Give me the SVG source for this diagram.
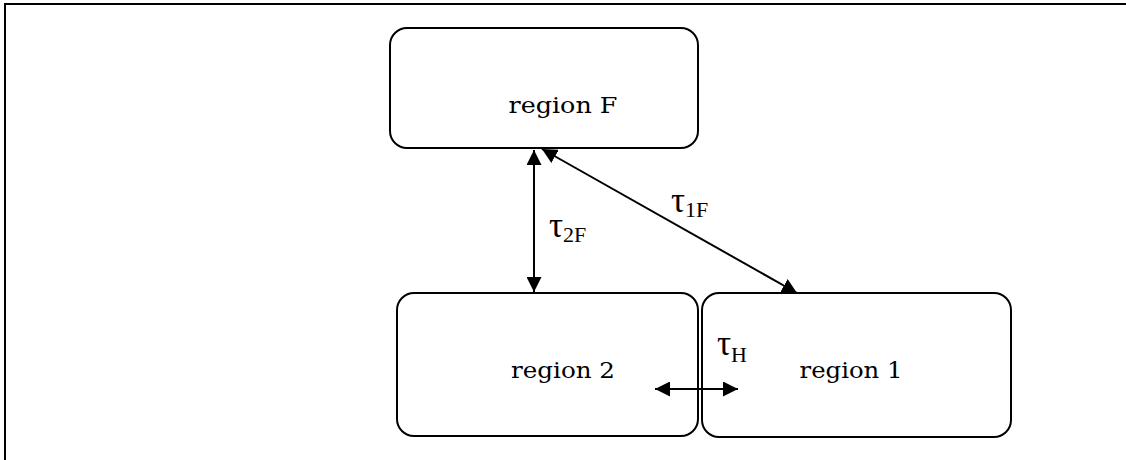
<svg xmlns="http://www.w3.org/2000/svg" width="1126" height="460" viewBox="0 0 1126 460">
<defs>
<style>
.box{fill:#fff;stroke:#000;stroke-width:2}
.lbl{font-family:"DejaVu Serif","Liberation Serif",serif;font-size:23px;fill:#000}
.tau{font-family:"Liberation Serif",serif;font-size:35px;fill:#000}
.sub{font-family:"Liberation Serif",serif;font-size:22px;fill:#000}
.conn{stroke:#000;stroke-width:2;fill:none}
</style>
<marker id="ah" viewBox="0 0 10 10" refX="10" refY="5" markerWidth="15" markerHeight="15" markerUnits="userSpaceOnUse" orient="auto-start-reverse">
<path d="M0,0 L10,5 L0,10 Z" fill="#000"/>
</marker>
</defs>
<rect width="1126" height="460" fill="#fff"/>
<path d="M5,460 V4 H1126" fill="none" stroke="#000" stroke-width="2"/>
<g id="regionF">
<rect class="box" x="390" y="28" width="308" height="120" rx="17"/>
<text class="lbl" x="563" y="113" text-anchor="middle" textLength="109" lengthAdjust="spacingAndGlyphs">region F</text>
</g>
<g id="region2">
<rect class="box" x="397" y="293" width="301" height="143" rx="17"/>
<text class="lbl" x="563" y="378" text-anchor="middle" textLength="104" lengthAdjust="spacingAndGlyphs">region 2</text>
</g>
<g id="region1">
<rect class="box" x="702" y="293" width="309" height="144" rx="17"/>
<text class="lbl" x="851" y="378" text-anchor="middle" textLength="103" lengthAdjust="spacingAndGlyphs">region 1</text>
</g>
<g id="connectors">
<line class="conn" x1="534" y1="150" x2="534" y2="292" marker-start="url(#ah)" marker-end="url(#ah)"/>
<line class="conn" x1="542" y1="149" x2="797" y2="293" marker-start="url(#ah)" marker-end="url(#ah)"/>
<line class="conn" x1="655" y1="389" x2="738" y2="389" marker-start="url(#ah)" marker-end="url(#ah)"/>
</g>
<g id="labels">
<text x="549" y="237"><tspan class="tau">τ</tspan><tspan class="sub" dy="5">2F</tspan></text>
<text x="671" y="212"><tspan class="tau">τ</tspan><tspan class="sub" dy="5">1F</tspan></text>
<text x="717" y="355"><tspan class="tau">τ</tspan><tspan class="sub" dy="7">H</tspan></text>
</g>
</svg>
